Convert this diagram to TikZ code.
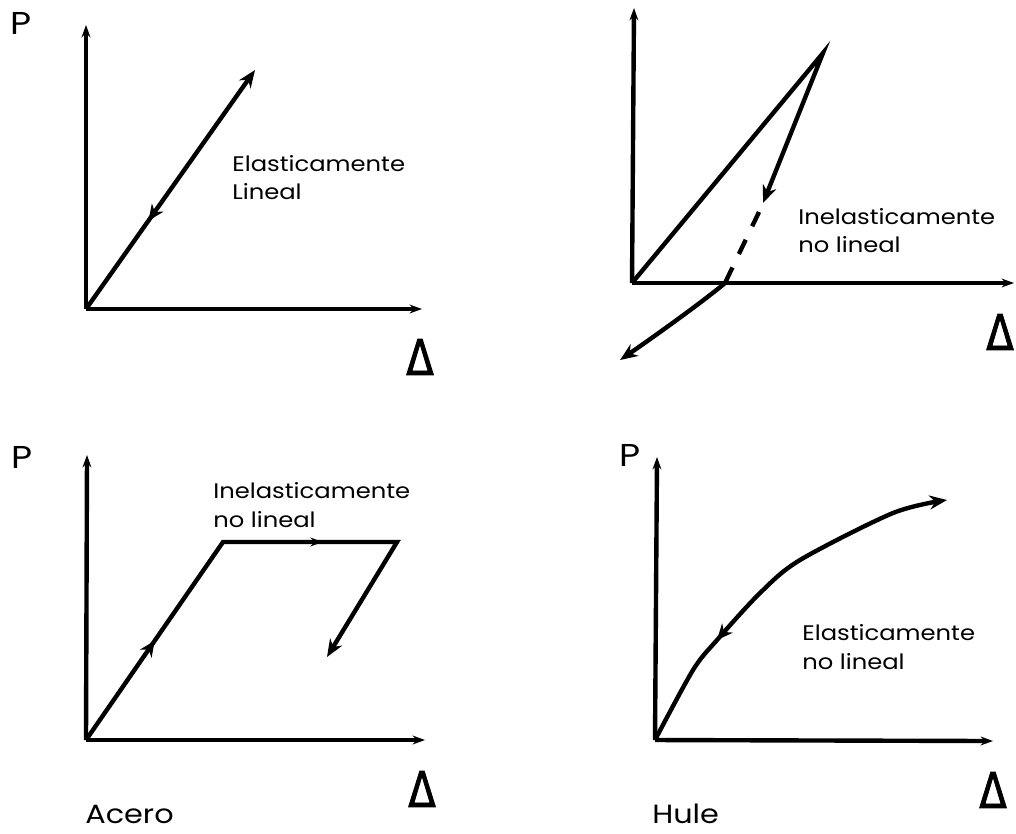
\documentclass[tikz,border=0pt]{standalone}
\usepackage{fontspec}
\setmainfont{Poppins}[FakeStretch=1.15]
\newfontfamily\deltafont{DejaVu Sans}[FakeStretch=0.82, FakeBold=1.6]
\usetikzlibrary{arrows.meta, decorations.markings, positioning}

\begin{document}
\begin{tikzpicture}[
    x=0.02cm, y=-0.02cm,
    axis/.style={line width=2.5pt, -{Stealth[length=7pt, width=5pt]}},
    curve/.style={line width=2.5pt, -{Stealth[length=10pt, width=8pt]}},
    regime/.style={anchor=west, align=left, inner sep=0pt, font=\fontsize{12}{16}\selectfont},
    pvar/.style={inner sep=0pt, font=\fontsize{18}{18}\selectfont},
    dvar/.style={inner sep=0pt, font=\deltafont\fontsize{28}{28}\selectfont},
    material/.style={anchor=west, inner sep=0pt, font=\fontsize{15}{15}\selectfont},
    midfwd/.style={postaction={decorate}, decoration={markings, mark=at position #1 with {\arrow{Stealth[length=9pt, width=8pt]}}}},
    midback/.style={postaction={decorate}, decoration={markings, mark=at position #1 with {\arrowreversed{Stealth[length=9pt, width=8pt]}}}}
]
    \useasboundingbox (0,0) rectangle (1016,833);

    % Elasticamente lineal
    \coordinate (oA) at (86,309);
    \coordinate (yA) at (86,25);
    \coordinate (xA) at (422,309);
    \coordinate (tA) at (255,70);
    \draw[axis] (oA) -- (yA);
    \draw[axis] (oA) -- (xA);
    \draw[curve, midback=0.37] (oA) -- (tA);
    \node[pvar] (pA) at (21,23) {P};
    \node[dvar] (dA) at (420,357) {Δ};
    \node[regime] (eA) at (232,178) {Elasticamente\\Lineal};

    % Inelasticamente no lineal (descarga)
    \coordinate (oB) at (632,283);
    \coordinate (yB) at (634,8);
    \coordinate (xB) at (1014,283);
    \coordinate (kB) at (823,53);
    \coordinate (uB) at (763,203);
    \coordinate (sB) at (759,212);
    \coordinate (cB) at (725,283);
    \coordinate (eB) at (620,360);
    \draw[axis] (oB) -- (yB);
    \draw[axis] (oB) -- (xB);
    \draw[curve] (oB) -- (kB) -- (uB);
    \draw[line width=2.5pt, dash pattern=on 9pt off 8.5pt] (sB) -- (cB);
    \draw[curve] (cB) .. controls (705,300) and (655,336) .. (eB);
    \node[dvar] (dB) at (1000,332) {Δ};
    \node[regime] (eB) at (798,231) {Inelasticamente\\no lineal};

    % Acero
    \coordinate (oC) at (86,740);
    \coordinate (yC) at (87,455);
    \coordinate (xC) at (425,740);
    \coordinate (kC) at (223,542);
    \coordinate (mC) at (397,542);
    \coordinate (uC) at (327,657);
    \draw[axis] (oC) -- (yC);
    \draw[axis] (oC) -- (xC);
    \draw[curve, postaction={decorate}, decoration={markings,
        mark=at position 0.22 with {\arrow{Stealth[length=9pt, width=8pt]}},
        mark=at position 0.62 with {\arrow{Stealth[length=7pt, width=5pt]}}}]
        (oC) -- (kC) -- (mC) -- (uC);
    \node[pvar] (pC) at (22,457) {P};
    \node[dvar] (dC) at (422,789) {Δ};
    \node[regime] (eC) at (213,505) {Inelasticamente\\no lineal};
    \node[material] (acero) at (85,814) {Acero};

    % Hule
    \coordinate (oD) at (655,740);
    \coordinate (yD) at (657,457);
    \coordinate (xD) at (993,741);
    \draw[axis] (oD) -- (yD);
    \draw[axis] (oD) -- (xD);
    \draw[curve, midback=0.3] plot[smooth] coordinates {(oD) (693,670) (717,640) (760,593) (800,560) (893,513) (947,500)};
    \node[pvar] (pD) at (630,455) {P};
    \node[dvar] (dD) at (993,790) {Δ};
    \node[regime] (eD) at (802,647) {Elasticamente\\no lineal};
    \node[material] (hule) at (652,814) {Hule};

\end{tikzpicture}
\end{document}
